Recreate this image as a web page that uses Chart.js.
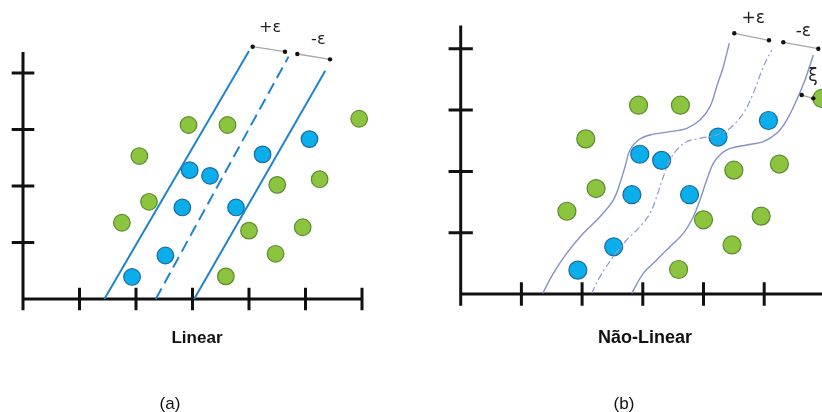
<!DOCTYPE html>
<html><head><meta charset="utf-8">
<script src="https://cdn.jsdelivr.net/npm/chart.js@4.4.1/dist/chart.umd.min.js"></script>
<style>
html,body{margin:0;padding:0;background:#fff;width:822px;height:412px;overflow:hidden;}
.panel{position:absolute;top:0;width:411px;height:412px;}
.lbl{position:absolute;font-family:"Liberation Sans",Arial,sans-serif;color:#111;transform:translate(-50%,-50%);white-space:nowrap;}
</style></head><body>
<div class="panel" style="left:0"><canvas id="c1"></canvas></div>
<div class="panel" style="left:411px"><canvas id="c2"></canvas></div>
<div class="lbl" style="left:197px;top:338px;font-weight:bold;font-size:17px">Linear</div>
<div class="lbl" style="left:645px;top:337px;font-weight:bold;font-size:18px">Não-Linear</div>
<div class="lbl" style="left:170px;top:404px;font-size:17px">(a)</div>
<div class="lbl" style="left:624px;top:404px;font-size:17px">(b)</div>
<script>
// ---- data (axis units) ----
const xTicks = [1, 2, 3, 4, 5, 6];
const yTicks = [1, 2, 3, 4];

const greenX = [2.93, 3.62, 2.06, 2.23, 1.75, 5.95, 5.25, 4.50, 4.00, 4.95, 4.47, 3.59];
const greenY = [3.08, 3.08, 2.53, 1.72, 1.35, 3.19, 2.12, 2.02, 1.21, 1.27, 0.80, 0.40];
const blueX  = [2.95, 3.31, 2.82, 3.77, 4.24, 5.07, 2.52, 1.93];
const blueY  = [2.28, 2.18, 1.62, 1.62, 2.56, 2.83, 0.77, 0.39];

// linear model (a)
const upperLineX = [1.44, 4.00], upperLineY = [0.00, 4.39];
const midLineX   = [2.35, 4.70], midLineY   = [0.00, 4.29];
const lowerLineX = [3.03, 5.35], lowerLineY = [0.00, 4.04];

// non-linear model (b)
const upperCurveX = [1.351,1.526,1.746,2.020,2.295,2.514,2.624,2.707,2.789,2.926,3.119,3.448,3.723,3.942,4.107,4.217,4.326,4.425];
const upperCurveY = [0.011,0.337,0.664,0.990,1.261,1.533,1.806,2.077,2.349,2.512,2.594,2.648,2.703,2.838,3.056,3.382,3.708,4.090];
const midCurveX = [2.158,2.295,2.514,2.735,2.954,3.119,3.229,3.338,3.448,3.558,3.723,3.942,4.217,4.437,4.656,4.820,4.985,5.124];
const midCurveY = [0.011,0.283,0.609,0.881,1.098,1.316,1.588,1.914,2.186,2.349,2.485,2.540,2.594,2.703,2.948,3.274,3.708,3.980];
const lowerCurveX = [2.817,3.008,3.229,3.448,3.667,3.832,3.942,4.053,4.162,4.300,4.437,4.712,4.985,5.206,5.371,5.535,5.672,5.809];
const lowerCurveY = [0.011,0.337,0.555,0.772,0.990,1.261,1.533,1.860,2.132,2.295,2.377,2.431,2.485,2.621,2.838,3.165,3.491,3.899];

// epsilon / xi annotations (axis units): [x1,y1,x2,y2]
const epsA = [[4.065,4.465,4.637,4.377],[4.855,4.336,5.434,4.242]];
const epsALabels = [["+ε",4.372,4.791],["-ε",5.227,4.584]];
const epsB = [[4.507,4.253,5.079,4.139],[5.315,4.106,5.891,4.002],[5.618,3.246,5.809,3.192]];
const epsBLabels = [["+ε",4.820,4.498],["-ε",5.644,4.279],["ξ",5.804,3.540]];

// ---- helpers ----
const zip = (xs, ys) => xs.map((v, i) => ({x: v, y: ys[i]}));

function axesPlugin(id, yTop, xEnd, tickY, tickX, ticksX) {
  return {
    id,
    beforeDatasetsDraw(chart) {
      const {ctx, scales: {x, y}} = chart;
      ctx.save();
      ctx.strokeStyle = '#111';
      ctx.lineWidth = 3;
      ctx.beginPath();
      const x0 = x.getPixelForValue(0);
      ctx.moveTo(x0, y.getPixelForValue(yTop));
      ctx.lineTo(x0, y.getPixelForValue(-tickY));
      ctx.moveTo(x0 - 1.5, y.getPixelForValue(0));
      ctx.lineTo(x.getPixelForValue(xEnd), y.getPixelForValue(0));
      ticksX.forEach(t => {
        const px = x.getPixelForValue(t);
        ctx.moveTo(px, y.getPixelForValue(tickY));
        ctx.lineTo(px, y.getPixelForValue(-tickY));
      });
      yTicks.forEach(t => {
        const py = y.getPixelForValue(t);
        ctx.moveTo(x.getPixelForValue(-tickX), py);
        ctx.lineTo(x.getPixelForValue(tickX), py);
      });
      ctx.stroke();
      ctx.restore();
    }
  };
}

function annoPlugin(id, segs, labels, fontSize) {
  return {
    id,
    afterDatasetsDraw(chart) {
      const {ctx, scales: {x, y}} = chart;
      ctx.save();
      segs.forEach(s => {
        const ax = x.getPixelForValue(s[0]), ay = y.getPixelForValue(s[1]);
        const bx = x.getPixelForValue(s[2]), by = y.getPixelForValue(s[3]);
        ctx.strokeStyle = '#a8a8a8';
        ctx.lineWidth = 1.3;
        ctx.beginPath(); ctx.moveTo(ax, ay); ctx.lineTo(bx, by); ctx.stroke();
        ctx.fillStyle = '#111';
        [[ax, ay], [bx, by]].forEach(p => { ctx.beginPath(); ctx.arc(p[0], p[1], 2.2, 0, Math.PI * 2); ctx.fill(); });
      });
      ctx.fillStyle = '#222';
      ctx.font = fontSize + 'px "DejaVu Sans", "Liberation Sans", sans-serif';
      ctx.textAlign = 'center';
      ctx.textBaseline = 'middle';
      labels.forEach(l => ctx.fillText(l[0], x.getPixelForValue(l[1]), y.getPixelForValue(l[2])));
      ctx.restore();
    }
  };
}

function pointSets(r) {
  return [
    {data: zip(greenX, greenY), pointRadius: r, pointBackgroundColor: '#8cc43f', pointBorderColor: '#5a8c2c', pointBorderWidth: 1.2, showLine: false, order: 2, clip: false},
    {data: zip(blueX, blueY), pointRadius: r, pointBackgroundColor: '#0aaeea', pointBorderColor: '#1b6aa0', pointBorderWidth: 1.2, showLine: false, order: 2, clip: false}
  ];
}

function baseOptions(xmin, xmax, ymin, ymax) {
  return {
    animation: false, responsive: true, maintainAspectRatio: false, events: [],
    layout: {padding: 0, autoPadding: false},
    plugins: {legend: {display: false}, tooltip: {enabled: false}},
    scales: {
      x: {type: 'linear', min: xmin, max: xmax, display: false},
      y: {type: 'linear', min: ymin, max: ymax, display: false}
    }
  };
}

const lineStyle = {showLine: true, pointRadius: 0, fill: false, clip: false, order: 0};

// ---- chart (a) ----
new Chart(document.getElementById('c1'), {
  type: 'scatter',
  data: {datasets: [
    ...pointSets(8.3),
    {...lineStyle, data: zip(upperLineX, upperLineY), borderColor: '#1f84cc', borderWidth: 2},
    {...lineStyle, data: zip(midLineX, midLineY), borderColor: '#1f84cc', borderWidth: 2, borderDash: [12, 6]},
    {...lineStyle, data: zip(lowerLineX, lowerLineY), borderColor: '#1f84cc', borderWidth: 2}
  ]},
  options: baseOptions(-23 / 56.5, -23 / 56.5 + 411 / 56.5, 299 / 56.5 - 412 / 56.5, 299 / 56.5),
  plugins: [axesPlugin('axA', 4.37, 6, 0.2, 0.2, xTicks), annoPlugin('anA', epsA, epsALabels, 16)]
});

// ---- chart (b) ----
new Chart(document.getElementById('c2'), {
  type: 'scatter',
  data: {datasets: [
    ...pointSets(9),
    {...lineStyle, data: zip(upperCurveX, upperCurveY), borderColor: '#8491c8', borderWidth: 1.4, tension: 0.35},
    {...lineStyle, data: zip(midCurveX, midCurveY), borderColor: '#8e9ad0', borderWidth: 1.2, tension: 0.35, borderDash: [7, 3, 2, 3]},
    {...lineStyle, data: zip(lowerCurveX, lowerCurveY), borderColor: '#8491c8', borderWidth: 1.4, tension: 0.35}
  ]},
  options: baseOptions(-49.7 / 60.7, -49.7 / 60.7 + 411 / 60.7, 294 / 61.3 - 412 / 61.3, 294 / 61.3),
  plugins: [axesPlugin('axB', 4.38, 7, 0.19, 0.2, xTicks), annoPlugin('anB', epsB, epsBLabels, 17)]
});
</script>
</body></html>
